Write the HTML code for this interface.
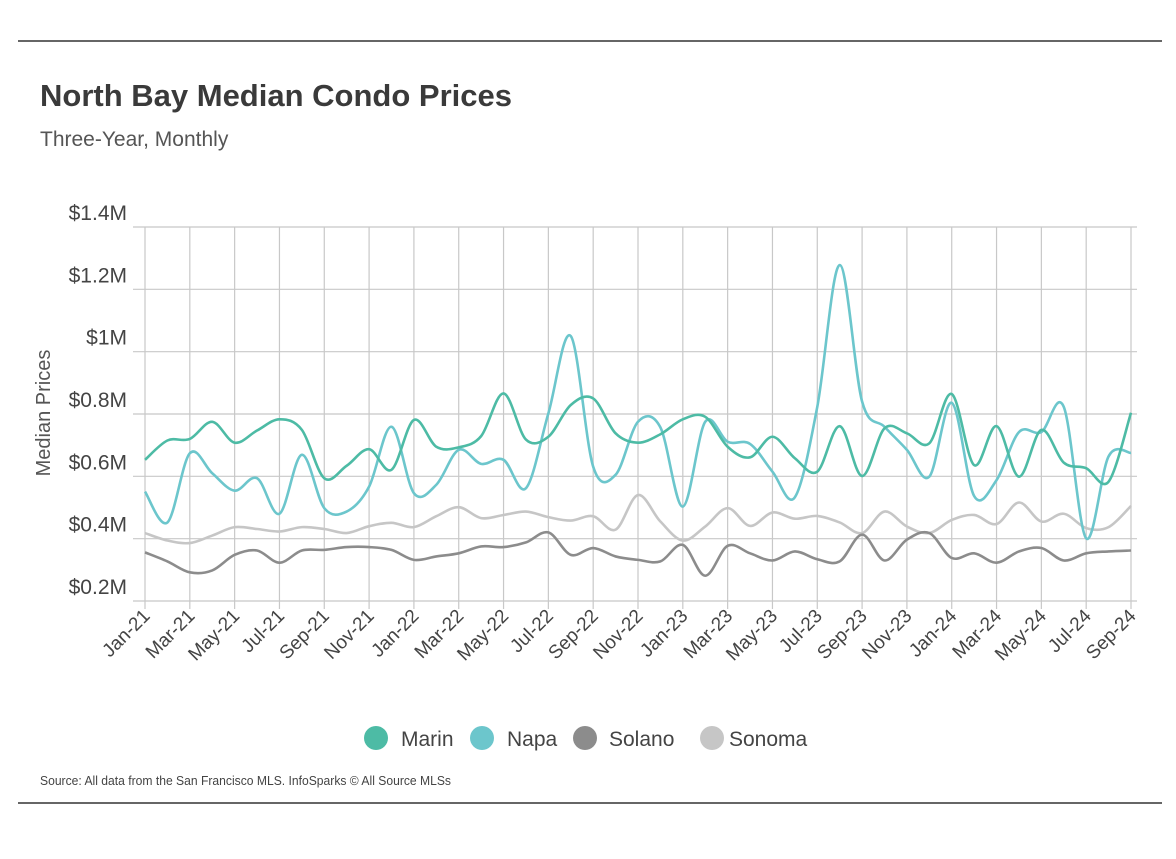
<!DOCTYPE html>
<html><head><meta charset="utf-8"><style>
body{margin:0;background:#fff;width:1176px;height:854px;overflow:hidden;font-family:"Liberation Sans Narrow","Liberation Sans",sans-serif;color:#444}
svg text{font-family:"Liberation Sans Narrow","Liberation Sans",sans-serif}
</style></head><body>
<svg id="chart" width="1176" height="854" xmlns="http://www.w3.org/2000/svg">
<line x1="18" y1="41" x2="1162" y2="41" stroke="#333" stroke-width="1.5"/>
<line x1="18" y1="803" x2="1162" y2="803" stroke="#333" stroke-width="1.5"/>
<text x="40" y="106" font-size="31" font-weight="bold" fill="#3a3a3a">North Bay Median Condo Prices</text>
<text x="40" y="146" font-size="21" fill="#555">Three-Year, Monthly</text>
<text transform="translate(50,413) rotate(-90)" text-anchor="middle" font-size="20" fill="#555">Median Prices</text>
<g id="grid"></g><g id="series"></g><g id="labels"></g>
<g>
<circle cx="376" cy="738" r="12" fill="#4dbba5"/><text x="401" y="746" font-size="21" fill="#444">Marin</text>
<circle cx="482" cy="738" r="12" fill="#6cc6cc"/><text x="507" y="746" font-size="21" fill="#444">Napa</text>
<circle cx="585" cy="738" r="12" fill="#8c8c8c"/><text x="609" y="746" font-size="21" fill="#444">Solano</text>
<circle cx="712" cy="738" r="12" fill="#c6c6c6"/><text x="729" y="746" font-size="21" fill="#444">Sonoma</text>
</g>
<text x="40" y="785" font-size="13" fill="#444" textLength="411" lengthAdjust="spacingAndGlyphs">Source:  All data from the San Francisco MLS. InfoSparks © All Source MLSs</text>
</svg>
<script>
const months=["Jan-21","Feb-21","Mar-21","Apr-21","May-21","Jun-21","Jul-21","Aug-21","Sep-21","Oct-21","Nov-21","Dec-21","Jan-22","Feb-22","Mar-22","Apr-22","May-22","Jun-22","Jul-22","Aug-22","Sep-22","Oct-22","Nov-22","Dec-22","Jan-23","Feb-23","Mar-23","Apr-23","May-23","Jun-23","Jul-23","Aug-23","Sep-23","Oct-23","Nov-23","Dec-23","Jan-24","Feb-24","Mar-24","Apr-24","May-24","Jun-24","Jul-24","Aug-24","Sep-24"];
const yTicks=[0.2,0.4,0.6,0.8,1.0,1.2,1.4];
const yTickLabels=["$0.2M","$0.4M","$0.6M","$0.8M","$1M","$1.2M","$1.4M"];
const marin=[0.653,0.715,0.72,0.775,0.708,0.747,0.783,0.749,0.594,0.634,0.687,0.621,0.781,0.695,0.693,0.729,0.866,0.718,0.727,0.829,0.850,0.738,0.708,0.735,0.783,0.791,0.695,0.661,0.727,0.658,0.615,0.761,0.601,0.754,0.738,0.706,0.864,0.636,0.761,0.599,0.749,0.644,0.626,0.583,0.804];
const napa=[0.551,0.452,0.674,0.610,0.554,0.594,0.480,0.669,0.498,0.487,0.567,0.759,0.546,0.573,0.685,0.640,0.653,0.562,0.802,1.050,0.631,0.605,0.775,0.757,0.503,0.775,0.711,0.704,0.615,0.533,0.823,1.278,0.84,0.759,0.685,0.599,0.836,0.537,0.588,0.742,0.742,0.823,0.401,0.664,0.675];
const solano=[0.356,0.327,0.292,0.298,0.348,0.362,0.323,0.362,0.364,0.373,0.373,0.364,0.332,0.343,0.353,0.375,0.373,0.388,0.420,0.348,0.370,0.343,0.332,0.327,0.380,0.281,0.377,0.353,0.330,0.359,0.334,0.327,0.413,0.330,0.397,0.418,0.338,0.353,0.323,0.359,0.370,0.330,0.353,0.359,0.362];
const sonoma=[0.418,0.394,0.386,0.410,0.437,0.431,0.423,0.437,0.431,0.418,0.440,0.451,0.437,0.472,0.501,0.466,0.476,0.487,0.469,0.458,0.472,0.429,0.54,0.455,0.394,0.439,0.498,0.441,0.484,0.464,0.473,0.452,0.418,0.487,0.439,0.418,0.460,0.476,0.447,0.516,0.455,0.480,0.434,0.437,0.505];
const NS="http://www.w3.org/2000/svg";
const x0=145,x1=1131,yB=601,yT=227;
const xs=i=>x0+(x1-x0)*i/(months.length-1);
const ys=v=>yB-(v-0.2)/(1.4-0.2)*(yB-yT);
function mk(tag,attrs,parent){const e=document.createElementNS(NS,tag);for(const k in attrs)e.setAttribute(k,attrs[k]);parent.appendChild(e);return e;}
const grid=document.getElementById('grid'),labels=document.getElementById('labels'),series=document.getElementById('series');
yTicks.forEach((t,j)=>{
 const l=mk('line',{x1:x0-12,x2:x1+6,y1:ys(t),y2:ys(t),stroke:'#c8c8c8','stroke-width':1.2},grid);
 
 
 const tx=mk('text',{x:127,y:ys(t)-7,'text-anchor':'end','font-size':21,fill:'#444'},labels);
 tx.textContent=yTickLabels[j];
 
 
});
months.forEach((m,i)=>{
 if(i%2)return;
 const l=mk('line',{x1:xs(i),x2:xs(i),y1:yT,y2:yB+8,stroke:'#c8c8c8','stroke-width':1.2},grid);
 
 
 const tx=mk('text',{transform:`translate(${xs(i)+6},${yB+16}) rotate(-45)`,'text-anchor':'end','font-size':19,fill:'#444'},labels);
 tx.textContent=m;
 
 
});
function path(vals){
 const p=vals.map((v,i)=>[xs(i),ys(v)]);
 let d=`M${p[0][0]},${p[0][1]}`;
 for(let i=0;i<p.length-1;i++){
  const a=p[Math.max(0,i-1)],b=p[i],c=p[i+1],e=p[Math.min(p.length-1,i+2)];
  const c1=[b[0]+(c[0]-a[0])/6,b[1]+(c[1]-a[1])/6],c2=[c[0]-(e[0]-b[0])/6,c[1]-(e[1]-b[1])/6];
  d+=` C${c1[0]},${c1[1]} ${c2[0]},${c2[1]} ${c[0]},${c[1]}`;
 }
 return d;
}
[[sonoma,'#c6c6c6','sonoma-line'],[solano,'#8c8c8c','solano-line'],[napa,'#6cc6cc','napa-line'],[marin,'#4dbba5','marin-line']].forEach(([v,c,n])=>{
 const e=mk('path',{d:path(v),fill:'none',stroke:c,'stroke-width':2.6,'stroke-linejoin':'round'},series);
 
 
});
</script>
</body></html>
